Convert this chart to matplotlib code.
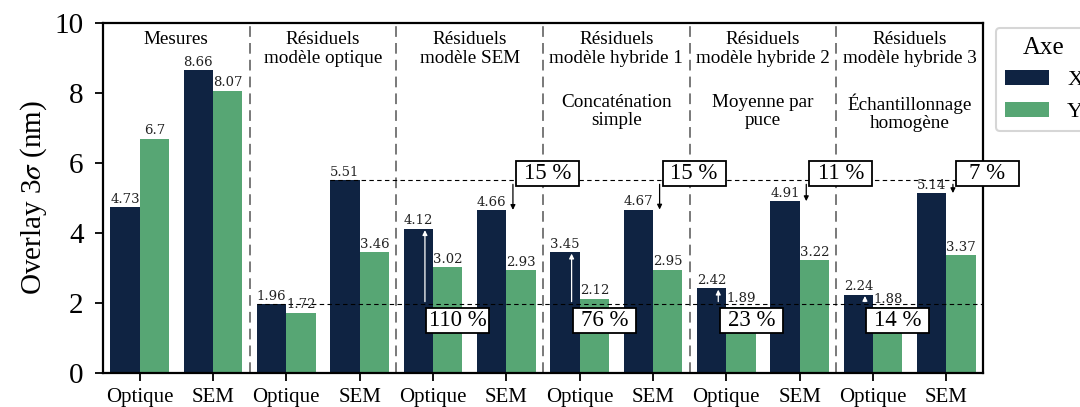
import matplotlib
matplotlib.use("Agg")
import matplotlib.pyplot as plt
from matplotlib.patches import Rectangle
import numpy as np

# ---- data ----
categories = ["Optique", "SEM"] * 6
x_vals = [4.73, 8.66, 1.96, 5.51, 4.12, 4.66, 3.45, 4.67, 2.42, 4.91, 2.24, 5.14]
y_vals = [6.7, 8.07, 1.72, 3.46, 3.02, 2.93, 2.12, 2.95, 1.89, 3.22, 1.88, 3.37]
series_names = ["X", "Y"]
group_titles = ["Mesures", "Résiduels\nmodèle optique", "Résiduels\nmodèle SEM",
                "Résiduels\nmodèle hybride 1", "Résiduels\nmodèle hybride 2",
                "Résiduels\nmodèle hybride 3"]
group_subtitles = ["", "", "", "Concaténation\nsimple", "Moyenne par\npuce",
                   "Échantillonnage\nhomogène"]
sem_idx = [5, 7, 9, 11]
sem_pct = ["15 %", "15 %", "11 %", "7 %"]
opt_idx = [4, 6, 8, 10]
opt_pct = ["110 %", "76 %", "23 %", "14 %"]
sem_ref = x_vals[3]
opt_ref = x_vals[2]

col_x = "#0f2342"
col_y = "#57a674"

plt.rcParams["font.family"] = ["Liberation Serif", "DejaVu Serif"]
plt.rcParams["mathtext.fontset"] = "stix"

fig = plt.figure(figsize=(10.8, 4.07), dpi=100)
ax = fig.add_axes([103/1080, 1-373/407, 880/1080, 350/407])

pos = np.arange(len(categories))
w = 0.4
bx = ax.bar(pos - w/2, x_vals, w, color=col_x, label=series_names[0], zorder=2)
by = ax.bar(pos + w/2, y_vals, w, color=col_y, label=series_names[1], zorder=2)
for bars, vals in ((bx, x_vals), (by, y_vals)):
    ax.bar_label(bars, labels=[f"{v:g}" for v in vals], padding=1,
                 fontsize=9.5, family="DejaVu Serif", color="#222222", zorder=5)

ax.set_xlim(-0.5, len(categories) - 0.5)
ax.set_ylim(0, 10)
ax.set_xticks(pos)
ax.set_xticklabels(categories, fontsize=15)
ax.set_yticks([0, 2, 4, 6, 8, 10])
ax.tick_params(axis="y", labelsize=21, length=6, width=1.3, pad=8)
ax.tick_params(axis="x", length=6, width=1.3, pad=5)
for s in ax.spines.values():
    s.set_linewidth(1.6)
ax.set_ylabel("Overlay 3$\\sigma$ (nm)", fontsize=21, labelpad=4)

# separators
for g in range(1, 6):
    ax.axvline(2*g - 0.5, color="#555555", ls=(0, (7, 4)), lw=1.1, zorder=1)

# titles
for g in range(6):
    ax.text(2*g + 0.5, 9.76, group_titles[g], ha="center", va="top",
            fontsize=13.8, linespacing=1.1)
    if group_subtitles[g]:
        ax.text(2*g + 0.5, 7.98, group_subtitles[g], ha="center", va="top",
                fontsize=13.8, linespacing=1.1)

# reference lines
ax.hlines(sem_ref, 3 - w, len(categories) - 0.5, colors="black", ls=(0, (4, 3)), lw=0.8, zorder=3)
ax.hlines(opt_ref, 2 - w, len(categories) - 0.5, colors="black", ls=(0, (4, 3)), lw=0.8, zorder=3)

box_w = 0.86
box_h = 0.714


def pct_box(x_left, yc, text):
    r = Rectangle((x_left, yc - box_h/2), box_w, box_h, fc="white", ec="black",
                  lw=1.3, zorder=6, clip_on=False)
    ax.add_patch(r)
    ax.text(x_left + box_w/2, yc, text, ha="center", va="center", fontsize=16.5,
            zorder=7, clip_on=False)


for i, t in zip(sem_idx, sem_pct):
    xa = i + 0.09
    ax.annotate("", xy=(xa, x_vals[i]), xytext=(xa, sem_ref),
                arrowprops=dict(arrowstyle="-|>", color="black", lw=0.9,
                                mutation_scale=7, shrinkA=3, shrinkB=0), zorder=4)
    pct_box(xa + 0.04, 5.70, t)

for i, t in zip(opt_idx, opt_pct):
    xa = i - 0.11
    ax.annotate("", xy=(xa, x_vals[i]), xytext=(xa, opt_ref),
                arrowprops=dict(arrowstyle="-|>", color="white", lw=0.9,
                                mutation_scale=7, shrinkA=2, shrinkB=1), zorder=4)
    pct_box(xa + 0.02, 1.50, t)

leg = ax.legend(title="Axe", loc="upper left", bbox_to_anchor=(1.0148, 0.986),
                borderaxespad=0, fontsize=16, title_fontsize=18,
                handlelength=2.0, handleheight=0.7, frameon=True, fancybox=True,
                edgecolor="#cccccc")
leg.get_frame().set_linewidth(1.5)

fig.savefig("out.png", dpi=100)
